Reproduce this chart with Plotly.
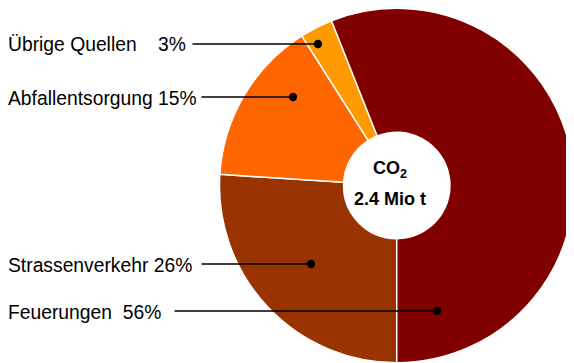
import plotly.graph_objects as go

# data (clockwise starting at 6 o'clock)
labels = ["Strassenverkehr", "Abfallentsorgung", "Übrige Quellen", "Feuerungen"]
values = [26, 15, 3, 56]
label_texts = ["Strassenverkehr 26%", "Abfallentsorgung 15%",
               "Übrige Quellen\u00a0\u00a0\u00a0 3%", "Feuerungen\u00a0 56%"]
colors = ["#993300", "#FF6600", "#FF9900", "#800000"]

# the page body has an 8px margin, so the figure is 8px smaller than the window
OFF = 8
W, H = 574 - OFF, 363 - OFF
dom_x = [211.5 / W, 1.0]
dom_y = [0.0, 1.0]

# leader lines: dot position and line start, in window pixels
leader_dot = [(311, 264), (293, 97), (318, 44), (437, 311)]
leader_start = [200, 200, 191, 173]
label_x = 6


def px(x):
    return (x - OFF) / W


def py(y):
    return 1 - (y - OFF) / H


fig = go.Figure()
fig.add_trace(go.Pie(
    labels=labels,
    values=values,
    marker=dict(colors=colors, line=dict(color="white", width=1.5)),
    sort=False,
    direction="clockwise",
    rotation=180,
    hole=0.30,
    textinfo="none",
    hoverinfo="label+percent",
    domain=dict(x=dom_x, y=dom_y),
    showlegend=False,
))

font = dict(family="Arial, Liberation Sans, sans-serif", size=19.3, color="black")
for txt, (dx, dy), sx in zip(label_texts, leader_dot, leader_start):
    # label text
    fig.add_annotation(
        x=px(label_x), y=py(dy + 1), xref="paper", yref="paper",
        text=txt, font=font, showarrow=False,
        xanchor="left", yanchor="middle",
    )
    # leader line with dot
    fig.add_annotation(
        x=px(dx), y=py(dy), xref="paper", yref="paper",
        text="", showarrow=True, arrowhead=6, arrowsize=1.3, arrowwidth=1.6,
        arrowcolor="black",
        ax=sx - dx, ay=0, axref="pixel", ayref="pixel",
    )

cx = (dom_x[0] + dom_x[1]) / 2
cy = (dom_y[0] + dom_y[1]) / 2
bold = dict(family="Arial, Liberation Sans, sans-serif", size=18, color="black")
fig.add_annotation(x=cx, y=cy, xref="paper", yref="paper",
                   text="<b>CO<sub>2</sub></b>", font=bold, showarrow=False,
                   xanchor="center", yanchor="middle", xshift=-7, yshift=16)
fig.add_annotation(x=cx, y=cy, xref="paper", yref="paper",
                   text="<b>2.4 Mio t</b>", font=bold, showarrow=False,
                   xanchor="center", yanchor="middle", xshift=-7, yshift=-13)

fig.update_layout(
    width=W, height=H,
    margin=dict(l=0, r=0, t=0, b=0),
    paper_bgcolor="white",
    plot_bgcolor="white",
)
fig.write_html("out.html")
